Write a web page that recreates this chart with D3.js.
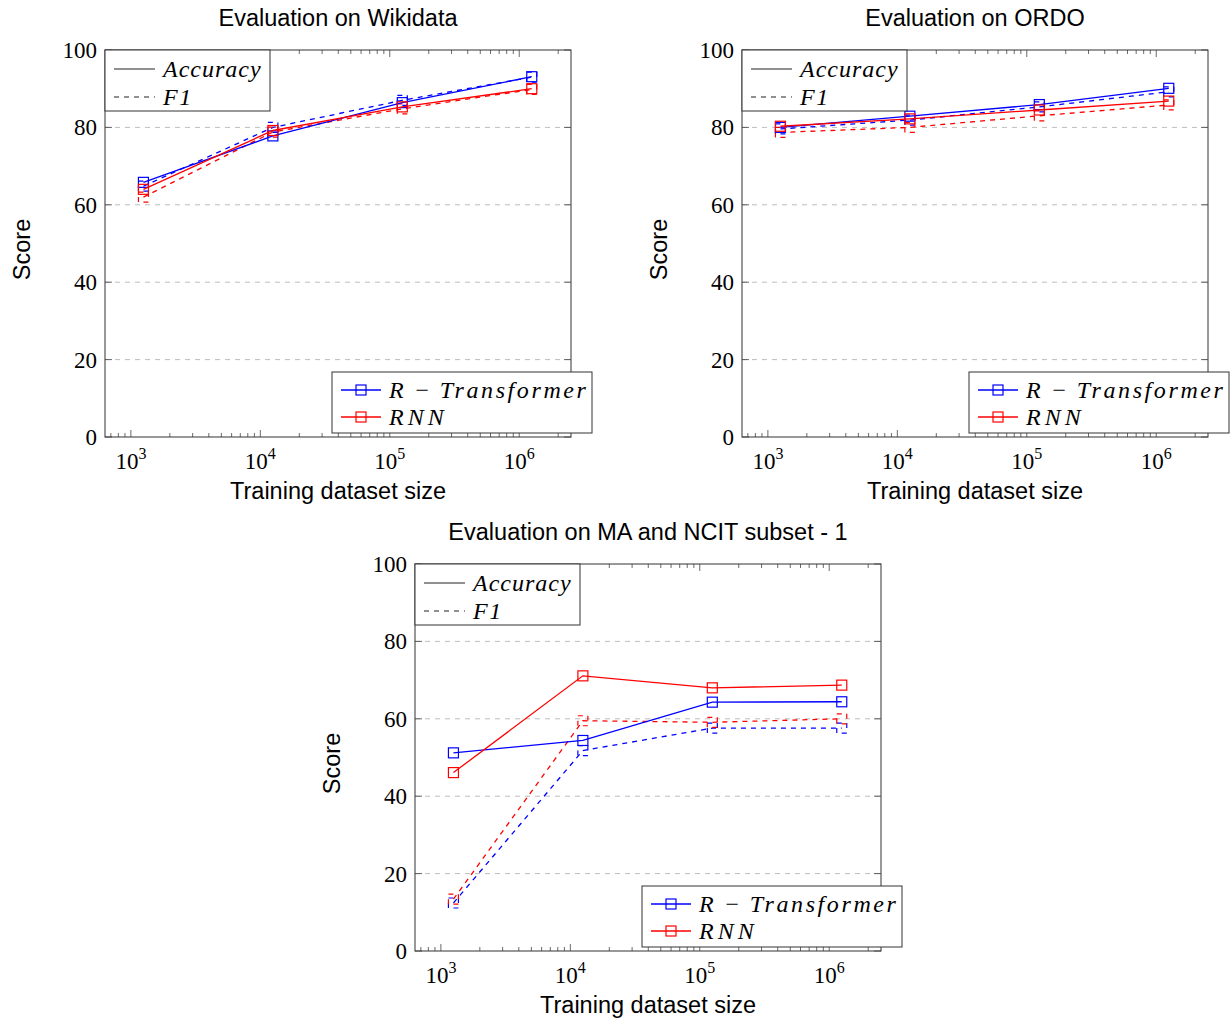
<!DOCTYPE html>
<html>
<head>
<meta charset="utf-8">
<script src="https://cdn.jsdelivr.net/npm/d3@7"></script>
<style>
  body { margin: 0; background: #fff; }
  svg { display: block; }
</style>
</head>
<body>
<div id="canvas"></div>
<script>
// dataset sizes (x, log scale)
const sizes = [1250, 12500, 125000, 1250000];
const yTicks = [0, 20, 40, 60, 80, 100];
const xTicks = [1e3, 1e4, 1e5, 1e6];

const titles = ["Evaluation on Wikidata", "Evaluation on ORDO", "Evaluation on MA and NCIT subset - 1"];

// Wikidata
const wikiRtAcc = [65.8, 77.8, 86.4, 93.1];
const wikiRtF1 = [64.8, 80.0, 87.0, 93.0];
const wikiRnnAcc = [64.0, 79.2, 85.3, 90.0];
const wikiRnnF1 = [62.0, 78.8, 84.8, 89.8];

// ORDO
const ordoRtAcc = [80.0, 82.9, 85.9, 90.1];
const ordoRtF1 = [79.6, 81.9, 85.3, 89.2];
const ordoRnnAcc = [80.3, 82.2, 84.5, 86.8];
const ordoRnnF1 = [78.7, 80.0, 83.0, 85.8];

// MA and NCIT subset - 1
const maRtAcc = [51.2, 54.4, 64.3, 64.4];
const maRtF1 = [12.4, 51.8, 57.6, 57.6];
const maRnnAcc = [46.1, 71.1, 68.0, 68.7];
const maRnnF1 = [13.4, 59.5, 59.1, 60.0];

const blue = "#0000ff";
const red = "#ff0000";

const width = 1230;
const height = 1021;

const svg = d3.select("#canvas").append("svg")
  .attr("width", width)
  .attr("height", height);

const pw = 466, ph = 387;
const sans = "Liberation Sans, Arial, sans-serif";
const serif = "Liberation Serif, serif";

function drawChart(left, top, title, series) {
  const g = svg.append("g").attr("transform", `translate(${left},${top})`);

  const x = d3.scaleLog().domain([Math.pow(10, 2.8), Math.pow(10, 6.4)]).range([0, pw]);
  const y = d3.scaleLinear().domain([0, 100]).range([ph, 0]);

  // grid
  g.selectAll(".grid").data(yTicks.filter(d => d > 0 && d < 100)).enter()
    .append("line")
    .attr("x1", 0).attr("x2", pw)
    .attr("y1", d => y(d)).attr("y2", d => y(d))
    .attr("stroke", "#bdbdbd").attr("stroke-width", 1)
    .attr("stroke-dasharray", "5,5");

  // minor x ticks
  const minor = [];
  for (let e = 2; e <= 6; e++) {
    for (let m = 2; m <= 9; m++) {
      const v = m * Math.pow(10, e);
      if (v > x.domain()[0] && v < x.domain()[1]) minor.push(v);
    }
  }
  [0, ph].forEach(yy => {
    const dir = yy === 0 ? 1 : -1;
    g.selectAll(null).data(minor).enter().append("line")
      .attr("x1", d => x(d)).attr("x2", d => x(d))
      .attr("y1", yy).attr("y2", yy + dir * 4)
      .attr("stroke", "#444").attr("stroke-width", 0.8);
    g.selectAll(null).data(xTicks).enter().append("line")
      .attr("x1", d => x(d)).attr("x2", d => x(d))
      .attr("y1", yy).attr("y2", yy + dir * 7)
      .attr("stroke", "#444").attr("stroke-width", 0.8);
  });
  [0, pw].forEach(xx => {
    const dir = xx === 0 ? 1 : -1;
    g.selectAll(null).data(yTicks).enter().append("line")
      .attr("x1", xx).attr("x2", xx + dir * 7)
      .attr("y1", d => y(d)).attr("y2", d => y(d))
      .attr("stroke", "#444").attr("stroke-width", 0.8);
  });

  // series
  const line = d3.line().x((d, i) => x(sizes[i])).y(d => y(d));
  series.forEach(s => {
    const dash = s.dashed ? "5,5" : null;
    g.append("path").datum(s.values)
      .attr("d", line)
      .attr("fill", "none")
      .attr("stroke", s.color)
      .attr("stroke-width", 1.3)
      .attr("stroke-dasharray", dash);
    g.selectAll(null).data(s.values).enter().append("rect")
      .attr("x", (d, i) => x(sizes[i]) - 5)
      .attr("y", d => y(d) - 5)
      .attr("width", 10).attr("height", 10)
      .attr("fill", "none")
      .attr("stroke", s.color)
      .attr("stroke-width", 1.2)
      .attr("stroke-dasharray", dash);
  });

  // frame
  g.append("rect").attr("width", pw).attr("height", ph)
    .attr("fill", "none").attr("stroke", "#333").attr("stroke-width", 1);

  // y labels
  g.selectAll(null).data(yTicks).enter().append("text")
    .attr("x", -8).attr("y", d => y(d) + 8)
    .attr("text-anchor", "end")
    .attr("font-family", serif)
    .attr("font-size", 23)
    .text(d => d);

  // x labels
  const xl = g.selectAll(null).data(xTicks).enter().append("text")
    .attr("x", d => x(d)).attr("y", ph + 32)
    .attr("text-anchor", "middle")
    .attr("font-family", serif)
    .attr("font-size", 23);
  xl.append("tspan").text("10");
  xl.append("tspan").attr("dy", -10).attr("font-size", 16).text(d => Math.round(Math.log10(d)));

  // axis titles
  g.append("text").attr("x", pw / 2).attr("y", ph + 62)
    .attr("text-anchor", "middle")
    .attr("font-family", sans)
    .attr("font-size", 23.5)
    .text("Training dataset size");
  g.append("text")
    .attr("transform", `translate(-75,${ph / 2 + 6}) rotate(-90)`)
    .attr("text-anchor", "middle")
    .attr("font-family", sans)
    .attr("font-size", 23.5)
    .text("Score");
  g.append("text").attr("x", pw / 2).attr("y", -24)
    .attr("text-anchor", "middle")
    .attr("font-family", sans)
    .attr("font-size", 23.5)
    .text(title);

  // metric legend (top-left)
  const lg1 = g.append("g");
  lg1.append("rect").attr("width", 165).attr("height", 61)
    .attr("fill", "#fff").attr("stroke", "#333").attr("stroke-width", 1);
  [["Accuracy", null, 1], ["F1", "5,5", 1.5]].forEach((d, i) => {
    const yy = 19 + i * 28;
    lg1.append("line").attr("x1", 9).attr("x2", 50).attr("y1", yy).attr("y2", yy)
      .attr("stroke", "#222").attr("stroke-width", 1.1).attr("stroke-dasharray", d[1]);
    lg1.append("text").attr("x", 58).attr("y", yy + 8)
      .attr("font-family", serif).attr("font-style", "italic")
      .attr("letter-spacing", d[2])
      .attr("font-size", 24).text(d[0]);
  });

  // model legend (bottom-right)
  const lg2 = g.append("g").attr("transform", `translate(${pw - 239},${ph - 65})`);
  lg2.append("rect").attr("width", 260).attr("height", 61)
    .attr("fill", "#fff").attr("stroke", "#333").attr("stroke-width", 1);
  [["R\u2009\u2212\u2009Transformer", blue, 2.6], ["RNN", red, 4]].forEach((d, i) => {
    const yy = 18 + i * 27;
    lg2.append("line").attr("x1", 9).attr("x2", 49).attr("y1", yy).attr("y2", yy)
      .attr("stroke", d[1]).attr("stroke-width", 1.3);
    lg2.append("rect").attr("x", 24).attr("y", yy - 5).attr("width", 10).attr("height", 10)
      .attr("fill", "none").attr("stroke", d[1]).attr("stroke-width", 1.2);
    lg2.append("text").attr("x", 57).attr("y", yy + 8)
      .attr("font-family", serif).attr("font-style", "italic")
      .attr("letter-spacing", d[2])
      .attr("font-size", 24).text(d[0]);
  });
}

drawChart(105, 50, titles[0], [
  { values: wikiRtF1, color: blue, dashed: true },
  { values: wikiRnnF1, color: red, dashed: true },
  { values: wikiRtAcc, color: blue, dashed: false },
  { values: wikiRnnAcc, color: red, dashed: false }
]);
drawChart(742, 50, titles[1], [
  { values: ordoRtF1, color: blue, dashed: true },
  { values: ordoRnnF1, color: red, dashed: true },
  { values: ordoRtAcc, color: blue, dashed: false },
  { values: ordoRnnAcc, color: red, dashed: false }
]);
drawChart(415, 564, titles[2], [
  { values: maRtF1, color: blue, dashed: true },
  { values: maRnnF1, color: red, dashed: true },
  { values: maRtAcc, color: blue, dashed: false },
  { values: maRnnAcc, color: red, dashed: false }
]);
</script>
</body>
</html>
